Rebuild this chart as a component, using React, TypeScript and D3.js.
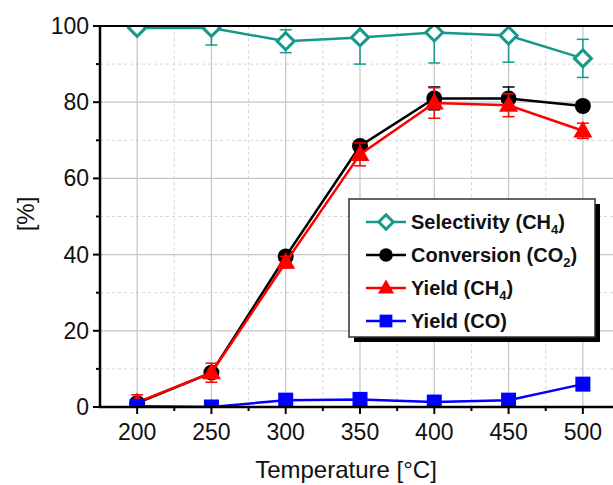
import React from "react";
import * as d3 from "d3";

const temps = [200, 250, 300, 350, 400, 450, 500];
const selectivity = [99.5, 99.5, 96, 97, 98.3, 97.5, 91.5];
const selectivityErr = [0.5, 4.5, 3, 7, 8, 7, 5];
const conversion = [1, 9, 39.5, 68.5, 81, 81, 79];
const conversionErr = [0.5, 1, 1, 1.2, 3, 3, 1];
const yieldCH4 = [1.2, 9, 38, 66.3, 79.8, 79.2, 72.5];
const yieldCH4Err = [2, 2.5, 1.5, 3, 4, 3, 2];
const yieldCO = [0.2, 0, 1.8, 2, 1.3, 1.8, 6];
const xTicks = [200, 250, 300, 350, 400, 450, 500];
const xMinor = [225, 275, 325, 375, 425, 475];
const yTicks = [0, 20, 40, 60, 80, 100];
const yMinor = [10, 30, 50, 70, 90];

const TEAL = "#16998a";
const W = 613, H = 485;
const x = d3.scaleLinear().domain([175, 525]).range([100, 620]);
const y = d3.scaleLinear().domain([0, 100]).range([407, 26]);

type Marker = "diamond" | "circle" | "triangle" | "square";

function markerEl(kind: Marker, cx: number, cy: number, color: string, s: number, key?: string | number) {
  if (kind === "diamond") {
    const r = s / 2;
    return <path key={key} d={`M${cx},${cy - r}L${cx + r},${cy}L${cx},${cy + r}L${cx - r},${cy}Z`} fill="#fff" stroke={color} strokeWidth={3} />;
  }
  if (kind === "circle") return <circle key={key} cx={cx} cy={cy} r={s / 2} fill={color} />;
  if (kind === "triangle") {
    const h = s * 0.87;
    return <path key={key} d={`M${cx},${cy - h * 0.6}L${cx + s / 2},${cy + h * 0.4}L${cx - s / 2},${cy + h * 0.4}Z`} fill={color} />;
  }
  return <rect key={key} x={cx - s / 2} y={cy - s / 2} width={s} height={s} fill={color} />;
}

const series = [
  { name: "Selectivity", sub: "CH", subN: "4", values: selectivity, err: selectivityErr, color: TEAL, marker: "diamond" as Marker, size: 17 },
  { name: "Conversion", sub: "CO", subN: "2", values: conversion, err: conversionErr, color: "#000", marker: "circle" as Marker, size: 16 },
  { name: "Yield", sub: "CH", subN: "4", values: yieldCH4, err: yieldCH4Err, color: "#ff0000", marker: "triangle" as Marker, size: 19 },
  { name: "Yield", sub: "CO", subN: "", values: yieldCO, err: null as number[] | null, color: "#0000ff", marker: "square" as Marker, size: 15 },
];

export default function App() {
  const line = d3.line<number>().x((_, i) => x(temps[i])).y((v) => y(v));
  const font = "'Liberation Sans', Arial, sans-serif";
  return (
    <svg width={W} height={H} style={{ position: "absolute", left: 0, top: 0, background: "#fff" }} fontFamily={font}>
      <defs>
        <clipPath id="plot"><rect x={100} y={26} width={520} height={381} /></clipPath>
      </defs>
      {/* grid */}
      {xMinor.map((t) => <line key={"xm" + t} x1={x(t)} x2={x(t)} y1={26} y2={407} stroke="#d6d6d6" strokeDasharray="3,3" />)}
      {yMinor.map((t) => <line key={"ym" + t} x1={100} x2={620} y1={y(t)} y2={y(t)} stroke="#d6d6d6" strokeDasharray="3,3" />)}
      {xTicks.map((t) => <line key={"xg" + t} x1={x(t)} x2={x(t)} y1={26} y2={407} stroke="#c4c4c4" strokeWidth={1.2} />)}
      {yTicks.map((t) => <line key={"yg" + t} x1={100} x2={620} y1={y(t)} y2={y(t)} stroke="#c4c4c4" strokeWidth={1.2} />)}
      {/* data */}
      <g clipPath="url(#plot)">
        {series.map((s, si) => (
          <g key={si}>
            <path d={line(s.values) || ""} fill="none" stroke={s.color} strokeWidth={2.5} />
            {s.err && s.values.map((v, i) => {
              const cx = x(temps[i]);
              const e = s.err![i];
              return (
                <g key={"e" + i} stroke={s.color} strokeWidth={1.5}>
                  <line x1={cx} x2={cx} y1={y(v - e)} y2={y(v + e)} />
                  <line x1={cx - 6} x2={cx + 6} y1={y(v - e)} y2={y(v - e)} />
                  <line x1={cx - 6} x2={cx + 6} y1={y(v + e)} y2={y(v + e)} />
                </g>
              );
            })}
            {s.values.map((v, i) => markerEl(s.marker, x(temps[i]), y(v), s.color, s.size, i))}
          </g>
        ))}
      </g>
      {/* axes */}
      <line x1={100} x2={620} y1={26} y2={26} stroke="#000" strokeWidth={2} />
      <line x1={100} x2={100} y1={25} y2={408} stroke="#000" strokeWidth={2.5} />
      <line x1={99} x2={620} y1={407} y2={407} stroke="#000" strokeWidth={2.5} />
      {xTicks.map((t) => <line key={"xt" + t} x1={x(t)} x2={x(t)} y1={407} y2={414} stroke="#000" strokeWidth={2} />)}
      {xMinor.map((t) => <line key={"xmt" + t} x1={x(t)} x2={x(t)} y1={407} y2={411} stroke="#000" strokeWidth={2} />)}
      {yTicks.map((t) => <line key={"yt" + t} x1={93} x2={100} y1={y(t)} y2={y(t)} stroke="#000" strokeWidth={2} />)}
      {yMinor.map((t) => <line key={"ymt" + t} x1={96} x2={100} y1={y(t)} y2={y(t)} stroke="#000" strokeWidth={2} />)}
      {xTicks.map((t) => <text key={"xl" + t} x={x(t)} y={440} fontSize={23} textAnchor="middle" fill="#111">{t}</text>)}
      {yTicks.map((t) => <text key={"yl" + t} x={89} y={y(t) + 8} fontSize={23} textAnchor="end" fill="#111">{t}</text>)}
      <text x={346} y={478} fontSize={24} textAnchor="middle" fill="#111">Temperature [°C]</text>
      <text transform="translate(34,214) rotate(-90)" fontSize={24} textAnchor="middle" fill="#111">[%]</text>
      {/* legend */}
      <rect x={354} y={204} width={246} height={138} fill="#000" />
      <rect x={349} y={199} width={246} height={138} fill="#fff" stroke="#333" strokeWidth={1.5} />
      {series.map((s, i) => {
        const ly = 222 + i * 33;
        return (
          <g key={"lg" + i}>
            <line x1={366} x2={406} y1={ly} y2={ly} stroke={s.color} strokeWidth={2.5} />
            {markerEl(s.marker, 386, ly, s.color, s.size * 0.85)}
            <text x={411} y={ly + 7} fontSize={20} fontWeight="bold" fill="#111">
              {s.name} ({s.sub}
              {s.subN && <tspan fontSize={13} dy={5}>{s.subN}</tspan>}
              {s.subN ? <tspan dy={-5}>)</tspan> : ")"}
            </text>
          </g>
        );
      })}
    </svg>
  );
}
